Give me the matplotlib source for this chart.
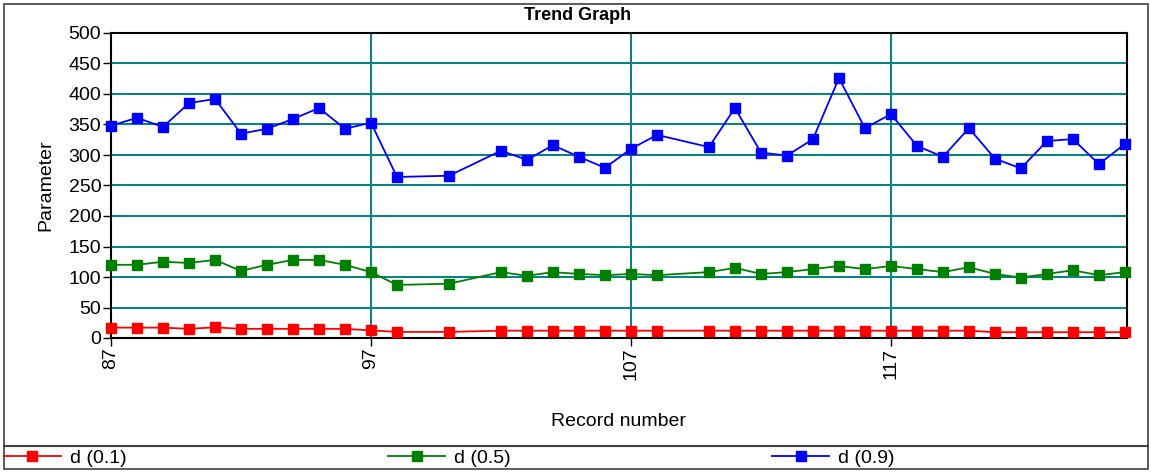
import matplotlib.pyplot as plt
from matplotlib.lines import Line2D
from matplotlib.patches import Rectangle

plt.rcParams['font.family'] = ['Liberation Sans', 'DejaVu Sans']

records = [87, 88, 89, 90, 91, 92, 93, 94, 95, 96, 97, 98, 100, 102, 103, 104,
           105, 106, 107, 108, 110, 111, 112, 113, 114, 115, 116, 117, 118, 119,
           120, 121, 122, 123, 124, 125, 126]

d01 = [17, 17, 17, 15, 17.5, 15, 15, 15, 15, 15, 12.5, 10, 10, 12, 12, 12,
       12, 12, 12, 12, 12, 12, 12, 12, 12, 12, 12, 12, 12, 12,
       12, 9.5, 9.5, 9.5, 9.5, 9.5, 9.5]

d05 = [120, 120, 125, 123, 128, 110, 120, 128, 128, 120, 108, 87, 89, 108, 102, 108,
       105, 103, 105, 103, 108, 115, 105, 108, 113, 118, 113, 118, 113, 108,
       116, 105, 99, 105, 111, 103, 108]

d09 = [348, 361, 346, 385, 392, 335, 343, 359, 377, 343, 353, 264, 266, 307, 292, 316,
       297, 279, 310, 333, 313, 377, 304, 299, 326, 426, 344, 367, 315, 297,
       344, 294, 278, 323, 326, 285, 318]

series = [("d (0.1)", d01, "#ff0000"), ("d (0.5)", d05, "#008000"), ("d (0.9)", d09, "#0000ff")]

W, H = 1151, 472
fig = plt.figure(figsize=(W / 100, H / 100), dpi=100)

# outer frame and legend separator
fig.patches.append(Rectangle((4 / W, 3 / H), 1144 / W, 465 / H, transform=fig.transFigure,
                             fill=False, edgecolor="#404040", linewidth=1.2))
fig.add_artist(Line2D([4 / W, 1148 / W], [1 - 446 / H, 1 - 446 / H], transform=fig.transFigure,
                      color="#404040", linewidth=1.5))

ax = fig.add_axes([111 / W, 1 - 338 / H, 1016 / W, 305 / H])

handles = []
for label, vals, col in series:
    h, = ax.plot(records, vals, color=col, linewidth=1.3, marker="s", markersize=7.5,
                 markeredgecolor=col, label=label, zorder=3, clip_on=False)
    handles.append(h)

ax.set_xlim(87, 126.08)
ax.set_ylim(0, 500)
ax.set_yticks(range(0, 501, 50))
ax.set_xticks([87, 97, 107, 117])
ax.set_xticklabels(["87", "97", "107", "117"], rotation=90)
ax.tick_params(axis="both", labelsize=14, length=6, width=1, direction="out", pad=1)
ax.grid(True, color="#008080", linewidth=1.4)
ax.set_axisbelow(True)
for sp in ax.spines.values():
    sp.set_linewidth(1.5)
    sp.set_color("black")

ax.set_ylabel("Parameter", fontsize=14, labelpad=10)
fig.text(619 / W, 1 - 421 / H, "Record number", ha="center", va="center", fontsize=14)
fig.text(578 / W, 1 - 15 / H, "Trend Graph", ha="center", va="center", fontsize=13,
         fontweight="bold")

fig.legend(handles=handles, loc="center left", bbox_to_anchor=(4 / W, 1 - 458 / H),
           ncol=3, frameon=False, fontsize=14, handlelength=2.93, handletextpad=0.46,
           columnspacing=13.45, borderpad=0, borderaxespad=0, markerscale=0.9)

fig.savefig("out.png", dpi=100)
